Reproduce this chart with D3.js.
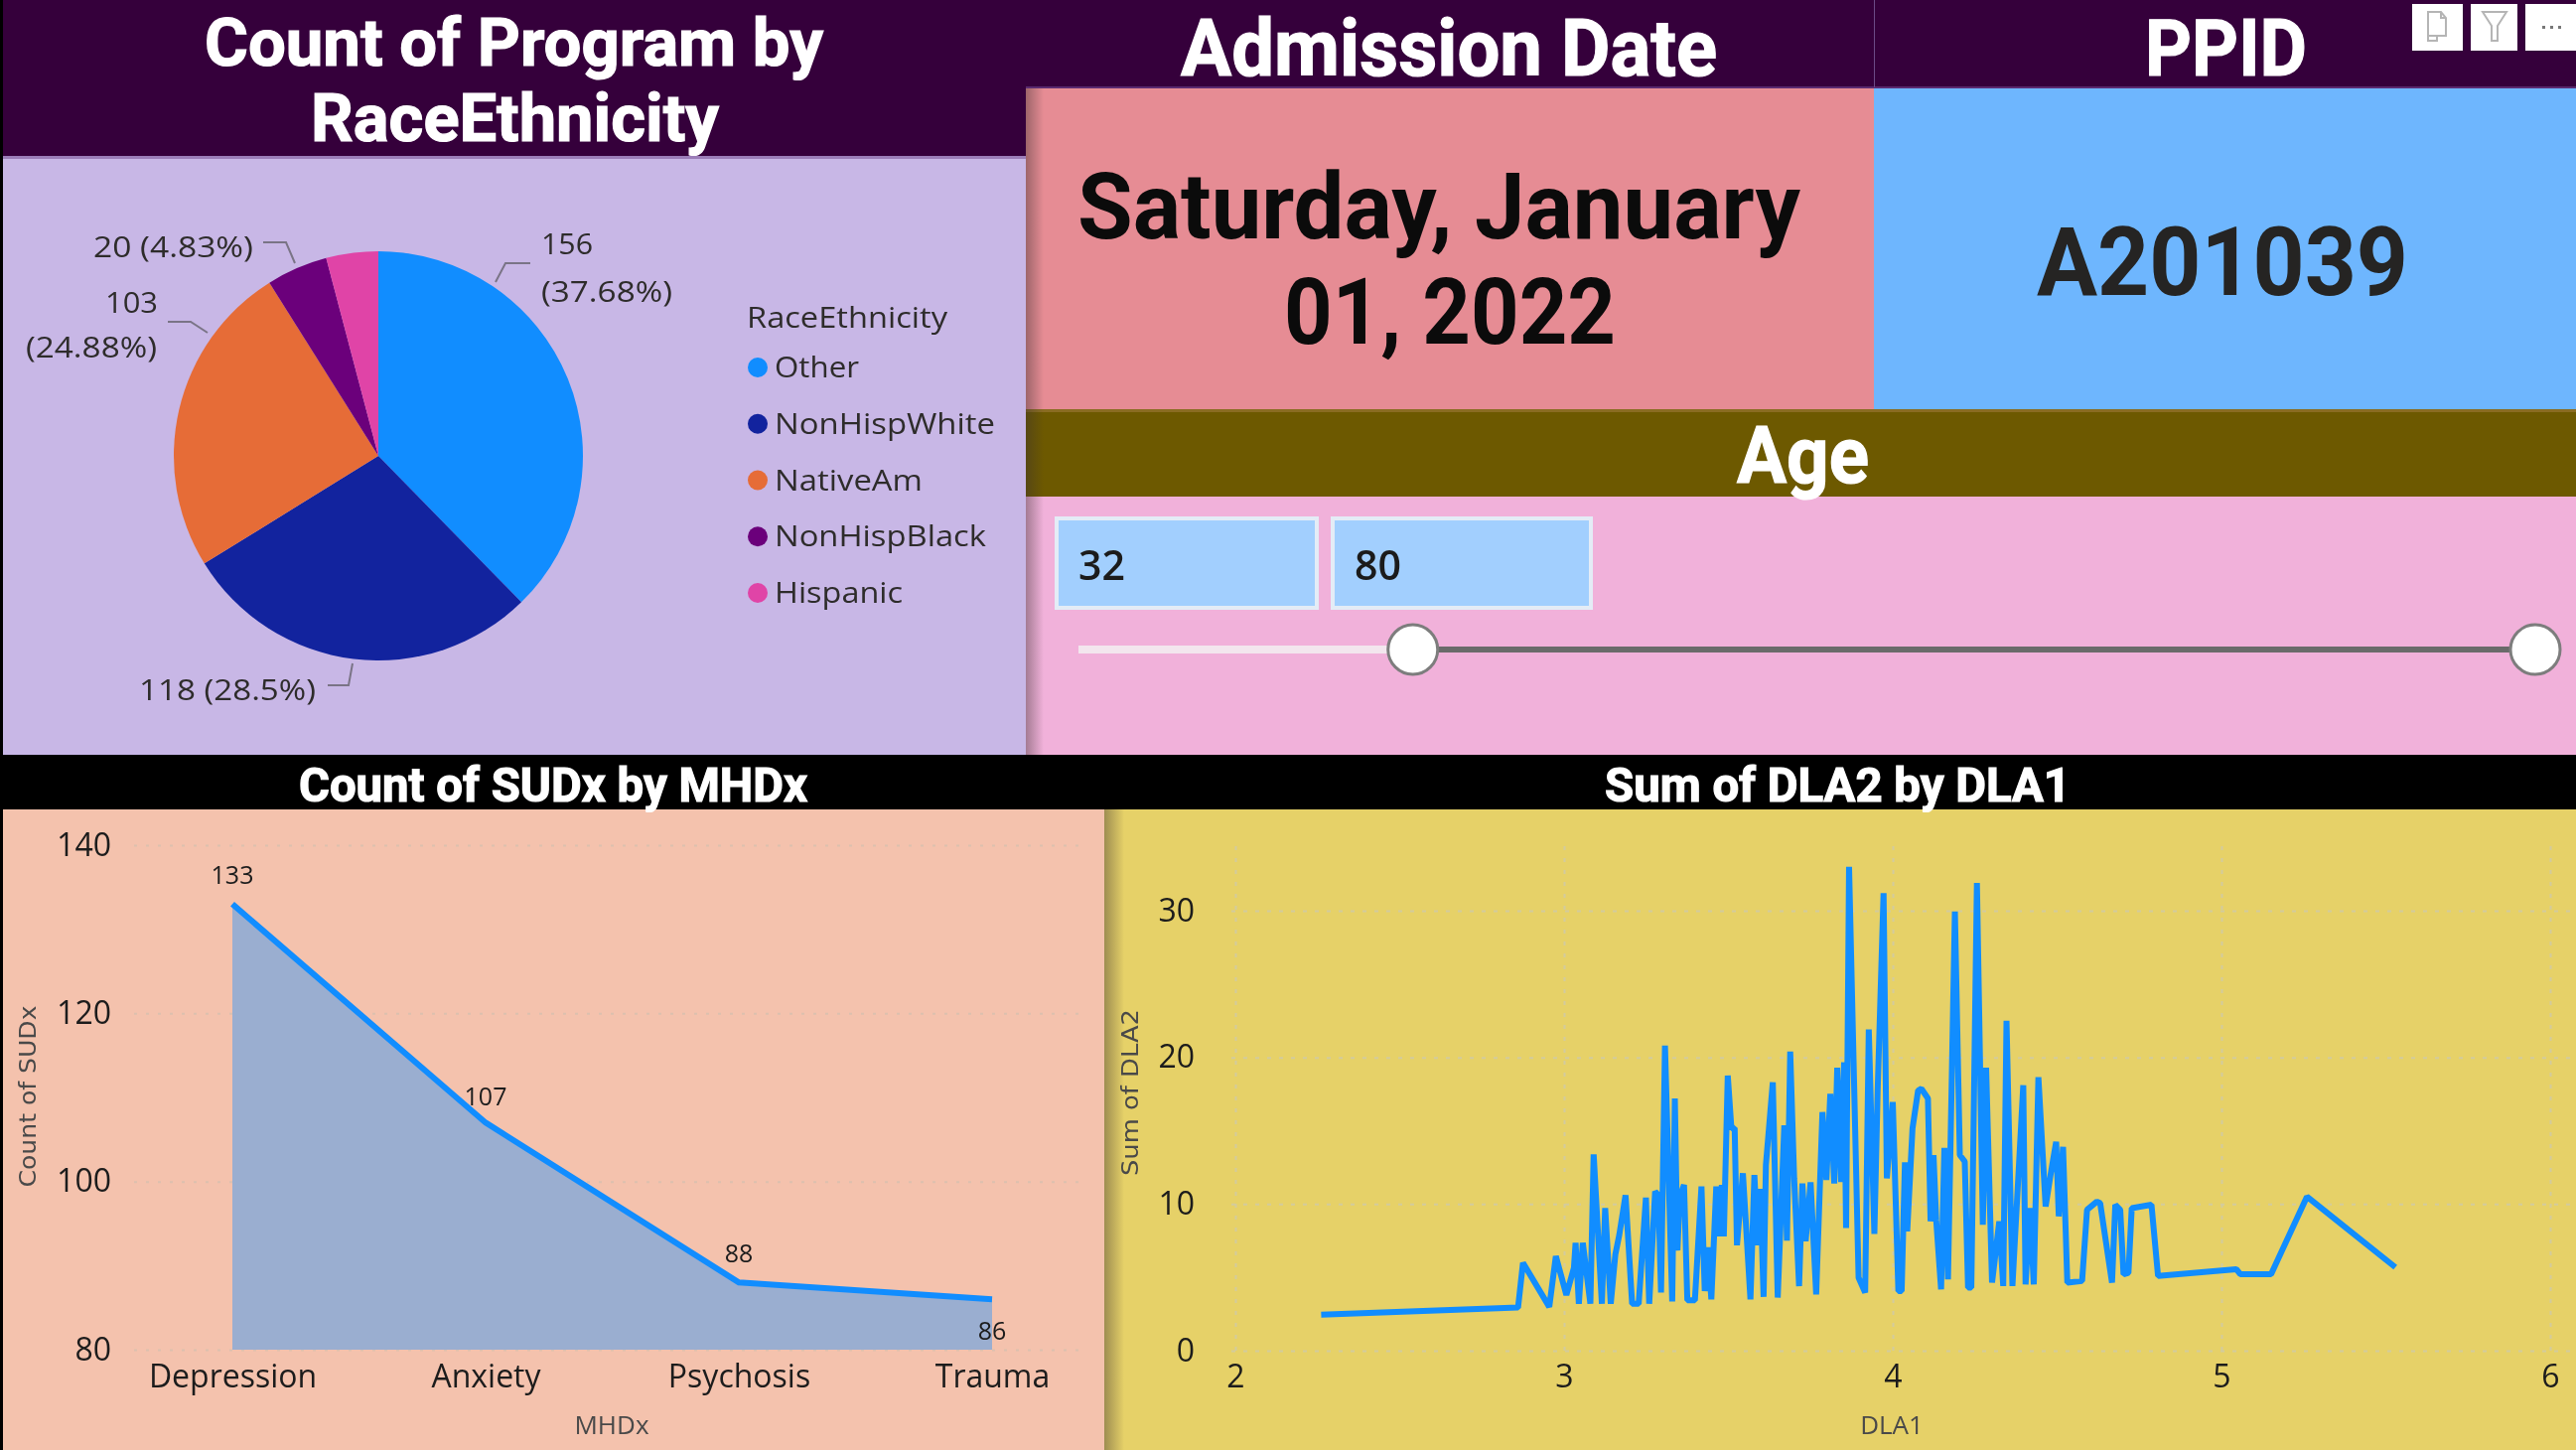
<!DOCTYPE html>
<html>
<head>
<meta charset="utf-8">
<title>Program dashboard</title>
<script src="https://cdn.jsdelivr.net/npm/d3@7"></script>
<style>
html,body{margin:0;padding:0;background:#000;overflow:hidden}
svg{display:block;filter:blur(0.7px)}
</style>
</head>
<body>
<svg id="chart" width="2594" height="1460"></svg>
<script>
// ---------- data ----------
const raceCategories = ["Other","NonHispWhite","NativeAm","NonHispBlack","Hispanic"];
const raceValues = [156,118,103,20,17];
const raceColors = ["#118dff","#12239e","#e66c37","#6b007b","#e044a7"];
const raceLabels = ["156 (37.68%)","118 (28.5%)","103 (24.88%)","20 (4.83%)"];

const mhdxCategories = ["Depression","Anxiety","Psychosis","Trauma"];
const sudxCounts = [133,107,88,86];
const sudxTicks = [80,100,120,140];

const dla1Values = [2.261,2.86,2.875,2.955,2.975,3.007,3.03,3.035,3.045,3.057,3.08,3.09,3.115,3.125,3.142,3.156,3.168,3.187,3.207,3.227,3.249,3.259,3.277,3.287,3.295,3.307,3.329,3.337,3.345,3.352,3.365,3.375,3.398,3.418,3.428,3.438,3.448,3.463,3.468,3.48,3.486,3.498,3.509,3.519,3.526,3.544,3.567,3.579,3.589,3.597,3.607,3.614,3.635,3.65,3.67,3.678,3.688,3.7,3.715,3.725,3.735,3.75,3.767,3.786,3.798,3.81,3.822,3.831,3.843,3.852,3.858,3.867,3.896,3.916,3.927,3.944,3.954,3.972,3.982,4.0,4.017,4.027,4.037,4.044,4.06,4.077,4.087,4.107,4.115,4.124,4.132,4.147,4.157,4.168,4.189,4.204,4.219,4.229,4.239,4.256,4.274,4.284,4.302,4.324,4.336,4.346,4.364,4.397,4.404,4.417,4.429,4.443,4.465,4.48,4.497,4.505,4.518,4.531,4.576,4.591,4.621,4.631,4.667,4.677,4.692,4.702,4.717,4.727,4.787,4.807,5.045,5.057,5.151,5.26,5.529];
const dla2Values = [2.45,2.94,5.99,2.99,6.44,3.8,5.65,7.35,3.2,7.35,3.2,13.38,3.2,9.72,3.2,6.56,7.9,10.6,3.2,3.2,10.44,3.2,10.85,10.6,3.96,20.8,3.35,17.2,6.83,10.5,11.3,3.44,3.44,11.2,4.07,7.05,3.5,11.2,7.8,11.3,7.8,18.76,15.15,15.19,7.19,12.1,3.5,11.98,7.19,11.03,3.67,12.66,18.3,3.62,15.37,7.5,20.4,11.75,4.4,11.4,7.46,11.48,3.84,16.27,11.64,17.52,11.4,19.3,11.5,19.66,8.37,33,4.98,3.96,21.9,7.96,17.74,31.2,11.75,16.95,4.07,4.07,12.84,8.14,15.15,17.74,17.86,17.2,8.82,13.34,8.93,4.18,13.83,4.86,29.95,13.34,12.9,4.3,4.3,31.9,8.59,19.3,4.64,8.82,4.41,22.49,4.41,18.1,4.52,9.72,4.52,18.65,9.83,11.98,14.24,9.16,13.9,4.64,4.75,9.61,10.17,10.06,4.64,9.95,9.61,5.2,5.3,9.72,9.95,5.09,5.56,5.22,5.22,10.5,5.69];
const dlaXTicks = [2,3,4,5,6];
const dlaYTicks = [0,10,20,30];

const ageRange = [32,80];
const ageBounds = [17.7,80];
const admissionLines = ["Saturday, January","01, 2022"];
const ppid = "A201039";

// ---------- helpers ----------
const svg = d3.select("#chart");
const SANS = "'Open Sans',sans-serif";
const HEAD = "Roboto,sans-serif";
const WIDE = "'DejaVu Sans',sans-serif";

function rect(x,y,w,h,fill){
  return svg.append("rect").attr("x",x).attr("y",y).attr("width",w).attr("height",h).attr("fill",fill);
}
function label(parent,str,x,y,o){
  const t = parent.append("text").attr("x",x).attr("y",y).text(str)
    .attr("font-family",o.font||SANS).attr("font-size",o.size)
    .attr("font-weight",o.weight||500).attr("fill",o.fill||"#252423")
    .attr("text-anchor",o.anchor||"start");
  if(o.width){ t.attr("textLength",o.width).attr("lengthAdjust","spacingAndGlyphs"); }
  if(o.rotate){ t.attr("transform",`rotate(${o.rotate} ${x} ${y})`); }
  if(o.heavy){ t.attr("stroke",o.fill).attr("stroke-width",o.heavy); }
  return t;
}

// ---------- panels ----------
rect(0,0,2594,1460,"#000");
rect(3,0,1030,158,"#35003b");
rect(3,157,1030,3,"#9b7db8");
rect(3,160,1030,600,"#c8b7e6");
rect(1033,0,1561,88,"#35003b");
rect(1033,87,1561,2,"#5a2a70");
rect(1887,0,1,88,"#6c4a86");
rect(1033,89,854,323,"#e68c94");
rect(1887,89,707,323,"#6eb6fe");
rect(1033,412,1561,88,"#6d5900");
rect(1033,412,1561,3,"#8a6c22");
rect(1033,500,1561,260,"#f1b1da");
rect(3,815,1109,645,"#f4c2ad");
rect(1112,815,1482,645,"#e6d168");

const defs = svg.append("defs");
const grad = defs.append("linearGradient").attr("id","edge");
grad.append("stop").attr("offset",0).attr("stop-color","#3a3030").attr("stop-opacity",0.42);
grad.append("stop").attr("offset",1).attr("stop-color","#3a3030").attr("stop-opacity",0);
rect(1033,89,18,671,"url(#edge)");
rect(1112,815,20,645,"url(#edge)");

// ---------- headers ----------
const headStyle = {font:HEAD,weight:700,fill:"#fff",heavy:1.2};
label(svg,"Count of Program by",206,66,{...headStyle,size:66,width:623});
label(svg,"RaceEthnicity",313,142,{...headStyle,size:66,width:411});
label(svg,"Admission Date",1189,76,{...headStyle,size:80,width:540});
label(svg,"PPID",2160,76,{...headStyle,size:80,width:163});
label(svg,"Age",1749,486,{...headStyle,size:80,width:133});
label(svg,"Count of SUDx by MHDx",301,807,{...headStyle,size:48,width:512});
label(svg,"Sum of DLA2 by DLA1",1616,807,{...headStyle,size:48,width:469});

// ---------- cards ----------
label(svg,admissionLines[0],1085,240,{font:HEAD,size:92,weight:700,fill:"#0b0b0b",width:728});
label(svg,admissionLines[1],1293,346,{font:HEAD,size:92,weight:700,fill:"#0b0b0b",width:334});
label(svg,ppid,2051,297,{font:HEAD,size:96,weight:700,fill:"#252423",width:374});

// ---------- visual-header icons ----------
const icons = svg.append("g");
[[2429,51],[2488,47],[2543,51]].forEach(d=>{
  icons.append("rect").attr("x",d[0]).attr("y",4).attr("width",d[1]).attr("height",47).attr("fill","#fff");
});
icons.append("path").attr("d","M2445 12h13l5 6v18h-9v5h-9zM2458 12v6h5M2445 36h9")
  .attr("fill","none").attr("stroke","#b5b5b5").attr("stroke-width",2);
icons.append("path").attr("d","M2500 12h24l-9 14v15h-6V26z")
  .attr("fill","none").attr("stroke","#b5b5b5").attr("stroke-width",2);
[2560,2568,2576].forEach(x=>icons.append("rect").attr("x",x).attr("y",26).attr("width",3).attr("height",3).attr("fill","#777"));

// ---------- age slicer ----------
const ageBox = [[1062,266,ageRange[0],1086],[1340,264,ageRange[1],1364]];
ageBox.forEach(b=>{
  svg.append("rect").attr("x",b[0]+2).attr("y",522).attr("width",b[1]-4).attr("height",90)
    .attr("fill","#a2cffe").attr("stroke","#e4ecf6").attr("stroke-width",4);
  label(svg,String(b[2]),b[3],584,{size:42,weight:600,fill:"#1b1b1b",width:47});
});
const ageX = d3.scaleLinear().domain(ageBounds).range([1086,2553]);
const sliderY = 654;
svg.append("line").attr("x1",ageX(ageBounds[0])).attr("x2",ageX(ageRange[0]))
  .attr("y1",sliderY).attr("y2",sliderY).attr("stroke","#f3e6ee").attr("stroke-width",8);
svg.append("line").attr("x1",ageX(ageRange[0])).attr("x2",ageX(ageRange[1]))
  .attr("y1",sliderY).attr("y2",sliderY).attr("stroke","#6a6a6a").attr("stroke-width",6);
ageRange.forEach(v=>{
  svg.append("circle").attr("cx",ageX(v)).attr("cy",sliderY).attr("r",25)
    .attr("fill","#fff").attr("stroke","#7d7d7d").attr("stroke-width",3);
});

// ---------- pie ----------
const pieG = svg.append("g").attr("transform","translate(381,459)");
const pie = d3.pie().sort(null).value((d,i)=>raceValues[i]);
const arc = d3.arc().innerRadius(0).outerRadius(206);
pieG.selectAll("path").data(pie(raceCategories)).join("path")
  .attr("d",arc).attr("fill",(d,i)=>raceColors[i]);

const leaders = [
  "M499 284L509 265H534",
  "M355 668L351 690H330",
  "M209 335L192 324H169",
  "M297 265L288 244H265"
];
leaders.forEach(p=>svg.append("path").attr("d",p).attr("fill","none").attr("stroke","#7a7486").attr("stroke-width",2));
const parts = raceLabels.map(s=>s.split(" "));
const pieOpts = {size:29,fill:"#2e2c2b"};
label(svg,parts[0][0],545,256,{...pieOpts,width:52});
label(svg,parts[0][1],545,304,{...pieOpts,width:132});
label(svg,raceLabels[1],140,705,{...pieOpts,width:178});
label(svg,parts[2][0],106,315,{...pieOpts,width:53});
label(svg,parts[2][1],26,360,{...pieOpts,width:132});
label(svg,raceLabels[3],94,259,{...pieOpts,width:161});

// legend
label(svg,"RaceEthnicity",752,330,{size:30,fill:"#2e2c2b",width:202});
const legendY = d3.scalePoint().domain(raceCategories).range([370,597]);
const legendW = [85,222,149,213,129];
raceCategories.forEach((c,i)=>{
  svg.append("circle").attr("cx",763).attr("cy",legendY(c)).attr("r",10).attr("fill",raceColors[i]);
  label(svg,c,780,legendY(c)+10,{size:30,fill:"#2e2c2b",width:legendW[i]});
});

// ---------- area chart ----------
const ax = d3.scalePoint().domain(mhdxCategories).range([234,999]);
const ay = d3.scaleLinear().domain([80,140]).range([1359,851]);
const axG = svg.append("g");
const yAxisA = d3.axisLeft(ay).tickValues(sudxTicks).tickSize(-958).tickPadding(23);
const yA = axG.append("g").attr("transform","translate(135,0)").call(yAxisA);
yA.select(".domain").remove();
yA.selectAll("line").attr("stroke","#dcc0ae").attr("stroke-width",2).attr("stroke-dasharray","3 9");
yA.selectAll("text").attr("font-family",SANS).attr("font-size",32).attr("font-weight",500).attr("fill","#1c1c1c");
const xAxisA = d3.axisBottom(ax).tickSize(0).tickPadding(15);
const xA = axG.append("g").attr("transform","translate(0,1359)").call(xAxisA);
xA.select(".domain").remove();
xA.selectAll("text").attr("font-family",SANS).attr("font-size",32).attr("font-weight",500).attr("fill","#1c1c1c");

const area = d3.area().x((d,i)=>ax(mhdxCategories[i])).y0(ay(80)).y1(d=>ay(d));
const line = d3.line().x((d,i)=>ax(mhdxCategories[i])).y(d=>ay(d));
svg.append("path").attr("d",area(sudxCounts)).attr("fill","#9aaed0");
svg.append("path").attr("d",line(sudxCounts)).attr("fill","none").attr("stroke","#118dff").attr("stroke-width",6);
const dataLabelOffset = [-20,-17,-20,41];
sudxCounts.forEach((v,i)=>{
  label(svg,String(v),ax(mhdxCategories[i]),ay(v)+dataLabelOffset[i],{size:25,fill:"#1c1c1c",anchor:"middle"});
});
label(svg,"Count of SUDx",36,1104,{font:WIDE,size:23,weight:400,fill:"#494949",anchor:"middle",rotate:-90,width:183});
label(svg,"MHDx",616,1444,{size:26,fill:"#494949",anchor:"middle"});

// ---------- line chart ----------
const lx = d3.scaleLinear().domain([2,6]).range([1244,2568]);
const ly = d3.scaleLinear().domain([0,30]).range([1360,917]);
const gridG = svg.append("g");
const yAxisL = d3.axisLeft(ly).tickValues(dlaYTicks).tickSize(-1350).tickPadding(37).tickFormat(d3.format("d"));
const yL = gridG.append("g").attr("transform","translate(1240,0)").call(yAxisL);
yL.select(".domain").remove();
yL.selectAll("line").attr("stroke","#d3cb9c").attr("stroke-width",2).attr("stroke-dasharray","4 8");
yL.selectAll("text").attr("font-family",SANS).attr("font-size",32).attr("font-weight",500).attr("fill","#1c1c1c");
const xAxisL = d3.axisBottom(lx).tickValues(dlaXTicks).tickSize(-515).tickPadding(14).tickFormat(d3.format("d"));
const xL = gridG.append("g").attr("transform","translate(0,1360)").call(xAxisL);
xL.select(".domain").remove();
xL.selectAll("line").attr("stroke","#d3cb9c").attr("stroke-width",2).attr("stroke-dasharray","4 8");
xL.selectAll("text").attr("font-family",SANS).attr("font-size",32).attr("font-weight",500).attr("fill","#1c1c1c");

const dlaLine = d3.line().x(d=>lx(d)).y((d,i)=>ly(dla2Values[i]));
svg.append("path").attr("d",dlaLine(dla1Values)).attr("fill","none")
  .attr("stroke","#118dff").attr("stroke-width",6).attr("stroke-linejoin","bevel");
label(svg,"Sum of DLA2",1146,1100,{font:WIDE,size:23,weight:400,fill:"#494949",anchor:"middle",rotate:-90,width:168});
label(svg,"DLA1",1905,1444,{size:26,fill:"#494949",anchor:"middle"});
</script>
</body>
</html>
